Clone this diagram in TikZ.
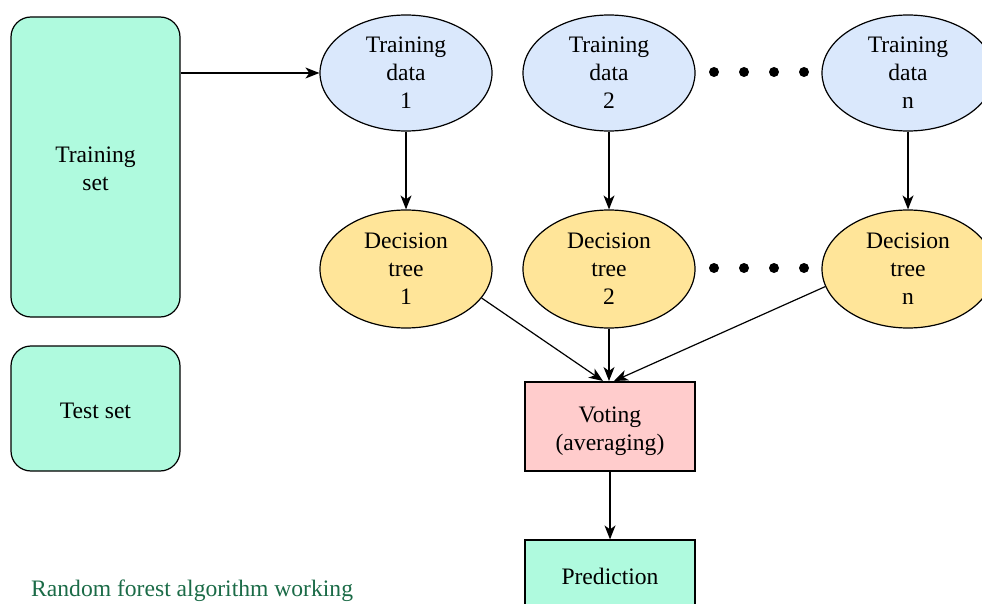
\documentclass[tikz,border=0pt]{standalone}
\usepackage{fontspec}
\setmainfont{Liberation Serif}
\usetikzlibrary{shapes.geometric,arrows.meta}
\definecolor{mint}{HTML}{AFFADE}
\definecolor{lblue}{HTML}{DAE8FC}
\definecolor{lyellow}{HTML}{FFE599}
\definecolor{lpink}{HTML}{FFCCCC}
\definecolor{capgreen}{HTML}{1B6B47}
\begin{document}
\begin{tikzpicture}[x=1pt,y=-1pt,
  every node/.style={font=\fontsize{23.6}{28}\selectfont, align=center, inner sep=0pt},
  setbox/.style={draw, line width=1.2pt, fill=mint, rounded corners=20pt, minimum width=169pt},
  dataell/.style={ellipse, draw, line width=1.2pt, fill=lblue, minimum width=172pt, minimum height=116pt},
  treeell/.style={ellipse, draw, line width=1.2pt, fill=lyellow, minimum width=172pt, minimum height=118pt},
  flowbox/.style={draw, line width=1.2pt, minimum width=170pt},
  conn/.style={line width=1.2pt, -{Stealth[length=14pt,width=11pt,inset=4pt]}},
  dotc/.style={circle, fill=black, minimum size=10pt, inner sep=0pt}
]
\useasboundingbox (0,0) rectangle (982,604);
\node[setbox, minimum height=300pt, text height=47.6pt] (tset) at (95.5,167) {Training\\set};
\node[setbox, minimum height=125pt, text height=20pt] (test) at (95.5,408.5) {Test set};
\node[dataell] (d1) at (406,73) {Training\\data\\1};
\node[dataell] (d2) at (609,73) {Training\\data\\2};
\node[dataell] (dn) at (908,73) {Training\\data\\n};
\node[treeell] (t1) at (406,269) {Decision\\tree\\1};
\node[treeell] (t2) at (609,269) {Decision\\tree\\2};
\node[treeell] (tn) at (908,269) {Decision\\tree\\n};
\foreach \i/\x in {1/714,2/744,3/774,4/804}{
  \node[dotc] (da\i) at (\x,72) {};
  \node[dotc] (db\i) at (\x,268) {};
}
\node[flowbox, fill=lpink, minimum height=89pt, text height=52.5pt] (vote) at (610,426.5) {Voting\\(averaging)};
\node[flowbox, fill=mint, minimum height=72pt] (pred) at (610,576) {Prediction};
\node[text=capgreen, anchor=west] (cap) at (31,591) {Random forest algorithm working};
\coordinate (vin) at (609,381);
\draw[conn] (tset.east |- d1.west) -- (d1.west);
\draw[conn] (d1) -- (t1);
\draw[conn] (d2) -- (t2);
\draw[conn] (dn) -- (tn);
\draw[conn] (t1.-21) -- ([xshift=-6pt]vin);
\draw[conn] (t2) -- (vin);
\draw[conn] (tn.192) -- ([xshift=5pt]vin);
\draw[conn] (vote) -- (pred);
\end{tikzpicture}
\end{document}
